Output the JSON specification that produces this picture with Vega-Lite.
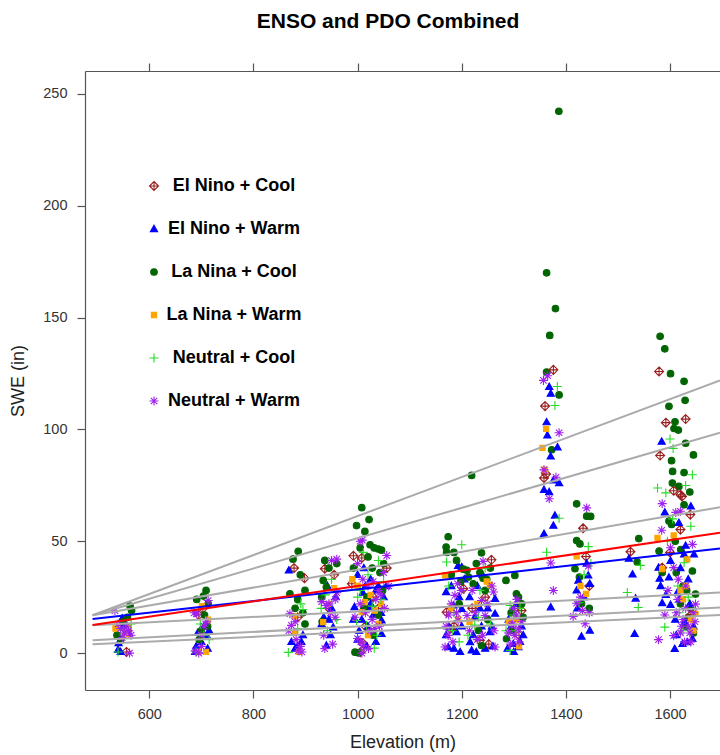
{
"$schema": "https://vega.github.io/schema/vega-lite/v6.json",
"width": 635, "height": 619,
"autosize": {"type": "none"},
"padding": {"left": 85, "top": 71, "right": 0, "bottom": 65},
"background": "white",
"config": {"view": {"stroke": null}, "font": "Liberation Sans",
  "axis": {"grid": false, "domainColor": "#555555", "tickColor": "#555555", "domainWidth": 1.2, "tickWidth": 1.2, "labelColor": "#333333", "titleColor": "#222222", "labelFont": "Liberation Sans", "titleFont": "Liberation Sans", "labelFontSize": 14.5, "titleFontSize": 18, "titleFontWeight": "normal", "tickSize": 8, "labelFlush": false}},
"title": {"text": "ENSO and PDO Combined", "font": "Liberation Sans", "fontSize": 21, "fontWeight": "bold", "color": "#000000", "dx": -14.5, "offset": 13, "baseline": "alphabetic"},
"datasets": {
"lines": [
{"id":"a1","e":491,"s":16.9},{"id":"a1","e":1696,"s":121.9},
{"id":"a2","e":491,"s":16.9},{"id":"a2","e":1696,"s":98.5},
{"id":"a3","e":491,"s":16.9},{"id":"a3","e":1696,"s":65.2},
{"id":"a4","e":491,"s":12.4},{"id":"a4","e":1696,"s":27.1},
{"id":"a5","e":491,"s":5.7},{"id":"a5","e":1696,"s":20.4},
{"id":"a6","e":491,"s":3.9},{"id":"a6","e":1696,"s":17.0},
{"id":"b","e":491,"s":15.2},{"id":"b","e":1696,"s":46.7},
{"id":"c","e":491,"s":12.6},{"id":"c","e":1696,"s":53.8}
],
"pts": [
{"e":552,"s":13,"g":"EC"},{"e":558,"s":10,"g":"EC"},{"e":556,"s":0.5,"g":"EC"},
{"e":548,"s":15.5,"g":"EW"},{"e":541,"s":4.5,"g":"EW"},{"e":540,"s":1.5,"g":"EW"},{"e":545,"s":0.5,"g":"EW"},{"e":560,"s":9,"g":"EW"},{"e":550,"s":12,"g":"EW"},
{"e":563,"s":21,"g":"LC"},{"e":566,"s":19,"g":"LC"},{"e":538,"s":8,"g":"LC"},{"e":550,"s":14,"g":"LC"},{"e":545,"s":6,"g":"LC"},{"e":558,"s":16,"g":"LC"},
{"e":535,"s":11,"g":"LW"},{"e":560,"s":12,"g":"LW"},{"e":555,"s":8.5,"g":"LW"},
{"e":540,"s":0.5,"g":"NC"},{"e":565,"s":13,"g":"NC"},{"e":550,"s":10,"g":"NC"},
{"e":534,"s":19,"g":"NW"},{"e":545,"s":11,"g":"NW"},{"e":552,"s":9,"g":"NW"},{"e":560,"s":10,"g":"NW"},{"e":565,"s":8,"g":"NW"},{"e":548,"s":7,"g":"NW"},{"e":562,"s":0,"g":"NW"},{"e":556,"s":12,"g":"NW"},{"e":540,"s":13,"g":"NW"},

{"e":703,"s":20,"g":"EC"},{"e":695,"s":17,"g":"EC"},
{"e":690,"s":3,"g":"EW"},{"e":695,"s":1,"g":"EW"},{"e":700,"s":5,"g":"EW"},{"e":710,"s":8,"g":"EW"},{"e":715,"s":10,"g":"EW"},{"e":705,"s":12,"g":"EW"},{"e":688,"s":0.5,"g":"EW"},{"e":712,"s":2,"g":"EW"},{"e":693,"s":9,"g":"EW"},
{"e":709,"s":28,"g":"LC"},{"e":704,"s":25.5,"g":"LC"},{"e":691,"s":24,"g":"LC"},{"e":713,"s":22,"g":"LC"},{"e":706,"s":17,"g":"LC"},{"e":700,"s":10,"g":"LC"},{"e":696,"s":6,"g":"LC"},{"e":712,"s":12,"g":"LC"},
{"e":701,"s":21,"g":"LW"},{"e":713,"s":15,"g":"LW"},{"e":709,"s":0.5,"g":"LW"},{"e":695,"s":0.5,"g":"LW"},
{"e":705,"s":8,"g":"NC"},{"e":698,"s":13,"g":"NC"},{"e":690,"s":0.5,"g":"NC"},{"e":715,"s":6,"g":"NC"},
{"e":713,"s":23.5,"g":"NW"},{"e":691,"s":17.5,"g":"NW"},{"e":705,"s":12,"g":"NW"},{"e":688,"s":1,"g":"NW"},{"e":695,"s":0,"g":"NW"},{"e":700,"s":3,"g":"NW"},{"e":710,"s":14,"g":"NW"},{"e":686,"s":18,"g":"NW"},{"e":700,"s":8,"g":"NW"},

{"e":878,"s":38,"g":"EC"},{"e":898,"s":33.5,"g":"EC"},{"e":885,"s":16,"g":"EC"},
{"e":868,"s":37,"g":"EW"},{"e":873,"s":5,"g":"EW"},{"e":892,"s":5,"g":"EW"},{"e":880,"s":2,"g":"EW"},{"e":895,"s":8,"g":"EW"},{"e":885,"s":3,"g":"EW"},
{"e":886,"s":45.5,"g":"LC"},{"e":876,"s":42,"g":"LC"},{"e":890,"s":35,"g":"LC"},{"e":870,"s":26.5,"g":"LC"},{"e":899,"s":28,"g":"LC"},{"e":899,"s":13,"g":"LC"},{"e":885,"s":24,"g":"LC"},{"e":880,"s":20,"g":"LC"},{"e":895,"s":18,"g":"LC"},
{"e":878,"s":16.5,"g":"LW"},{"e":880,"s":9,"g":"LW"},{"e":888,"s":0.5,"g":"LW"},
{"e":891,"s":22,"g":"NC"},{"e":895,"s":19.5,"g":"NC"},{"e":867,"s":0.3,"g":"NC"},{"e":885,"s":11,"g":"NC"},
{"e":870,"s":17.6,"g":"NW"},{"e":873,"s":12.4,"g":"NW"},{"e":868,"s":10,"g":"NW"},{"e":886,"s":1,"g":"NW"},{"e":893,"s":0.5,"g":"NW"},{"e":880,"s":14,"g":"NW"},{"e":890,"s":3,"g":"NW"},{"e":882,"s":6,"g":"NW"},

{"e":937,"s":37.7,"g":"EC"},{"e":955,"s":35,"g":"EC"},{"e":945,"s":20,"g":"EC"},
{"e":942,"s":30,"g":"EW"},{"e":950,"s":20,"g":"EW"},{"e":931,"s":13,"g":"EW"},{"e":953,"s":11.5,"g":"EW"},{"e":940,"s":3.4,"g":"EW"},{"e":958,"s":25,"g":"EW"},{"e":935,"s":16,"g":"EW"},{"e":948,"s":8,"g":"EW"},{"e":945,"s":15,"g":"EW"},
{"e":937,"s":41.4,"g":"LC"},{"e":960,"s":40,"g":"LC"},{"e":934,"s":32.5,"g":"LC"},{"e":940,"s":29.5,"g":"LC"},{"e":931,"s":25,"g":"LC"},{"e":945,"s":38,"g":"LC"},{"e":932,"s":14,"g":"LC"},
{"e":955,"s":29,"g":"LW"},{"e":934,"s":13.8,"g":"LW"},{"e":945,"s":22,"g":"LW"},
{"e":938,"s":26,"g":"NC"},{"e":950,"s":33,"g":"NC"},{"e":930,"s":20,"g":"NC"},{"e":960,"s":15,"g":"NC"},{"e":942,"s":10,"g":"NC"},
{"e":950,"s":41.4,"g":"NW"},{"e":960,"s":42,"g":"NW"},{"e":931,"s":23,"g":"NW"},{"e":945,"s":22,"g":"NW"},{"e":957,"s":24,"g":"NW"},{"e":940,"s":21.3,"g":"NW"},{"e":957,"s":16,"g":"NW"},{"e":937,"s":2,"g":"NW"},{"e":948,"s":18,"g":"NW"},{"e":960,"s":27,"g":"NW"},{"e":935,"s":8,"g":"NW"},{"e":952,"s":4,"g":"NW"},

{"e":992,"s":43.5,"g":"EC"},{"e":1008,"s":42.5,"g":"EC"},{"e":1056,"s":38,"g":"EC"},{"e":989,"s":31,"g":"EC"},{"e":1010,"s":4.5,"g":"EC"},{"e":1005,"s":0.4,"g":"EC"},{"e":1030,"s":25,"g":"EC"},{"e":1040,"s":20,"g":"EC"},{"e":1015,"s":12,"g":"EC"},
{"e":1000,"s":35,"g":"EW"},{"e":1015,"s":30,"g":"EW"},{"e":1025,"s":33,"g":"EW"},{"e":994,"s":20.6,"g":"EW"},{"e":1021,"s":20.6,"g":"EW"},{"e":1046,"s":14.6,"g":"EW"},{"e":1046,"s":8.6,"g":"EW"},{"e":992,"s":15,"g":"EW"},{"e":1003,"s":10,"g":"EW"},{"e":1010,"s":27,"g":"EW"},{"e":1035,"s":28,"g":"EW"},{"e":1050,"s":25,"g":"EW"},{"e":1040,"s":30,"g":"EW"},{"e":1012,"s":38,"g":"EW"},{"e":1000,"s":6,"g":"EW"},{"e":1020,"s":12,"g":"EW"},{"e":1055,"s":30,"g":"EW"},{"e":1030,"s":17,"g":"EW"},{"e":1018,"s":3,"g":"EW"},{"e":1008,"s":15,"g":"EW"},{"e":1035,"s":5,"g":"EW"},{"e":1025,"s":22,"g":"EW"},{"e":1045,"s":18,"g":"EW"},
{"e":1008,"s":65,"g":"LC"},{"e":998,"s":57,"g":"LC"},{"e":1022,"s":59.7,"g":"LC"},{"e":1014,"s":54.4,"g":"LC"},{"e":1024,"s":48.4,"g":"LC"},{"e":1032,"s":47,"g":"LC"},{"e":1040,"s":46.5,"g":"LC"},{"e":1046,"s":46,"g":"LC"},{"e":992,"s":38,"g":"LC"},{"e":1020,"s":43,"g":"LC"},{"e":1050,"s":40,"g":"LC"},{"e":1043,"s":36,"g":"LC"},{"e":1040,"s":17,"g":"LC"},{"e":995,"s":0.4,"g":"LC"},{"e":1001,"s":0.1,"g":"LC"},{"e":1028,"s":38,"g":"LC"},{"e":1018,"s":25,"g":"LC"},{"e":1048,"s":28,"g":"LC"},{"e":1005,"s":47,"g":"LC"},{"e":1030,"s":8,"g":"LC"},{"e":1012,"s":20,"g":"LC"},
{"e":1014,"s":22.8,"g":"LW"},{"e":1033,"s":19,"g":"LW"},{"e":1008,"s":18.3,"g":"LW"},{"e":1000,"s":30,"g":"LW"},{"e":1025,"s":26,"g":"LW"},{"e":1045,"s":22,"g":"LW"},{"e":990,"s":33,"g":"LW"},{"e":1020,"s":8,"g":"LW"},{"e":1040,"s":13,"g":"LW"},
{"e":1011,"s":45,"g":"NC"},{"e":1040,"s":41.4,"g":"NC"},{"e":998,"s":14.6,"g":"NC"},{"e":1017,"s":12.4,"g":"NC"},{"e":1037,"s":8,"g":"NC"},{"e":1032,"s":2.2,"g":"NC"},{"e":1020,"s":35,"g":"NC"},{"e":1005,"s":28,"g":"NC"},{"e":1050,"s":32,"g":"NC"},{"e":1028,"s":21,"g":"NC"},{"e":1045,"s":24,"g":"NC"},{"e":1000,"s":25,"g":"NC"},
{"e":1009,"s":50.5,"g":"NW"},{"e":1005,"s":50,"g":"NW"},{"e":1056,"s":43.6,"g":"NW"},{"e":1030,"s":32,"g":"NW"},{"e":1040,"s":28,"g":"NW"},{"e":1020,"s":30,"g":"NW"},{"e":1010,"s":33,"g":"NW"},{"e":1045,"s":26,"g":"NW"},{"e":995,"s":16,"g":"NW"},{"e":1033,"s":11,"g":"NW"},{"e":1000,"s":6.5,"g":"NW"},{"e":1006,"s":5,"g":"NW"},{"e":1011,"s":3.4,"g":"NW"},{"e":1021,"s":2,"g":"NW"},{"e":1008,"s":0,"g":"NW"},{"e":1050,"s":36,"g":"NW"},{"e":1060,"s":30,"g":"NW"},{"e":1025,"s":10,"g":"NW"},{"e":1000,"s":40,"g":"NW"},{"e":1035,"s":24,"g":"NW"},{"e":1015,"s":18,"g":"NW"},{"e":1028,"s":15,"g":"NW"},{"e":1042,"s":12,"g":"NW"},{"e":1005,"s":22,"g":"NW"},{"e":1052,"s":20,"g":"NW"},

{"e":1171,"s":18.3,"g":"EC"},{"e":1178,"s":10.9,"g":"EC"},{"e":1203,"s":28.8,"g":"EC"},{"e":1185,"s":12,"g":"EC"},
{"e":1193,"s":39,"g":"EW"},{"e":1200,"s":38.4,"g":"EW"},{"e":1170,"s":27.3,"g":"EW"},{"e":1184,"s":21.3,"g":"EW"},{"e":1200,"s":19.8,"g":"EW"},{"e":1190,"s":9.4,"g":"EW"},{"e":1174,"s":2.7,"g":"EW"},{"e":1197,"s":0.5,"g":"EW"},{"e":1180,"s":30,"g":"EW"},{"e":1195,"s":25,"g":"EW"},{"e":1175,"s":12,"g":"EW"},{"e":1205,"s":33,"g":"EW"},{"e":1170,"s":8,"g":"EW"},{"e":1185,"s":2,"g":"EW"},{"e":1200,"s":12,"g":"EW"},
{"e":1174,"s":52,"g":"LC"},{"e":1170,"s":47.4,"g":"LC"},{"e":1171,"s":45,"g":"LC"},{"e":1190,"s":41.4,"g":"LC"},{"e":1203,"s":37.5,"g":"LC"},{"e":1180,"s":35,"g":"LC"},{"e":1198,"s":32,"g":"LC"},{"e":1185,"s":45,"g":"LC"},{"e":1195,"s":22,"g":"LC"},
{"e":1168,"s":34.7,"g":"LW"},{"e":1193,"s":15.3,"g":"LW"},{"e":1180,"s":20,"g":"LW"},
{"e":1200,"s":48.4,"g":"NC"},{"e":1171,"s":40.7,"g":"NC"},{"e":1185,"s":18,"g":"NC"},{"e":1195,"s":5,"g":"NC"},{"e":1175,"s":30,"g":"NC"},{"e":1182,"s":10,"g":"NC"},
{"e":1187,"s":25.8,"g":"NW"},{"e":1193,"s":14.6,"g":"NW"},{"e":1174,"s":7.9,"g":"NW"},{"e":1168,"s":2.7,"g":"NW"},{"e":1180,"s":22,"g":"NW"},{"e":1199,"s":28,"g":"NW"},{"e":1183,"s":5,"g":"NW"},{"e":1175,"s":17,"g":"NW"},{"e":1192,"s":31,"g":"NW"},{"e":1190,"s":18,"g":"NW"},{"e":1170,"s":12,"g":"NW"},

{"e":1257,"s":41.7,"g":"EC"},{"e":1235,"s":5.7,"g":"EC"},{"e":1245,"s":25,"g":"EC"},{"e":1220,"s":20,"g":"EC"},{"e":1252,"s":4,"g":"EC"},
{"e":1225,"s":16.1,"g":"EW"},{"e":1264,"s":24.3,"g":"EW"},{"e":1264,"s":17.6,"g":"EW"},{"e":1254,"s":9.4,"g":"EW"},{"e":1216,"s":4.9,"g":"EW"},{"e":1219,"s":1.2,"g":"EW"},{"e":1230,"s":30,"g":"EW"},{"e":1240,"s":35,"g":"EW"},{"e":1215,"s":25,"g":"EW"},{"e":1250,"s":20,"g":"EW"},{"e":1238,"s":12,"g":"EW"},{"e":1260,"s":3,"g":"EW"},{"e":1228,"s":0.5,"g":"EW"},{"e":1245,"s":2,"g":"EW"},{"e":1235,"s":20,"g":"EW"},{"e":1258,"s":12,"g":"EW"},{"e":1222,"s":8,"g":"EW"},
{"e":1219,"s":79.4,"g":"LC"},{"e":1238,"s":44.8,"g":"LC"},{"e":1213,"s":34,"g":"LC"},{"e":1210,"s":37,"g":"LC"},{"e":1235,"s":36,"g":"LC"},{"e":1241,"s":33.5,"g":"LC"},{"e":1248,"s":33,"g":"LC"},{"e":1222,"s":31,"g":"LC"},{"e":1232,"s":10.1,"g":"LC"},{"e":1238,"s":3.4,"g":"LC"},{"e":1255,"s":38,"g":"LC"},{"e":1228,"s":40,"g":"LC"},{"e":1250,"s":15,"g":"LC"},{"e":1245,"s":28,"g":"LC"},
{"e":1254,"s":30.5,"g":"LW"},{"e":1248,"s":32,"g":"LW"},{"e":1230,"s":22,"g":"LW"},{"e":1215,"s":14,"g":"LW"},
{"e":1245,"s":38,"g":"NC"},{"e":1225,"s":12.5,"g":"NC"},{"e":1255,"s":13,"g":"NC"},{"e":1235,"s":28,"g":"NC"},{"e":1212,"s":8,"g":"NC"},{"e":1232,"s":16,"g":"NC"},
{"e":1241,"s":41,"g":"NW"},{"e":1261,"s":27.3,"g":"NW"},{"e":1238,"s":23.5,"g":"NW"},{"e":1210,"s":16.8,"g":"NW"},{"e":1245,"s":16.8,"g":"NW"},{"e":1264,"s":2.7,"g":"NW"},{"e":1220,"s":28,"g":"NW"},{"e":1230,"s":6,"g":"NW"},{"e":1250,"s":22,"g":"NW"},{"e":1215,"s":10,"g":"NW"},{"e":1258,"s":30,"g":"NW"},{"e":1240,"s":8,"g":"NW"},{"e":1226,"s":18,"g":"NW"},{"e":1262,"s":10,"g":"NW"},

{"e":1302,"s":19.8,"g":"EC"},{"e":1315,"s":19,"g":"EC"},{"e":1310,"s":8,"g":"EC"},
{"e":1299,"s":4.1,"g":"EW"},{"e":1309,"s":2.7,"g":"EW"},{"e":1312,"s":5,"g":"EW"},{"e":1295,"s":12,"g":"EW"},{"e":1290,"s":15,"g":"EW"},{"e":1315,"s":12,"g":"EW"},{"e":1305,"s":22,"g":"EW"},{"e":1300,"s":0.5,"g":"EW"},{"e":1288,"s":2,"g":"EW"},{"e":1318,"s":8,"g":"EW"},
{"e":1285,"s":32.5,"g":"LC"},{"e":1302,"s":34.7,"g":"LC"},{"e":1305,"s":26.5,"g":"LC"},{"e":1309,"s":25,"g":"LC"},{"e":1286,"s":6.4,"g":"LC"},{"e":1295,"s":18,"g":"LC"},{"e":1315,"s":22,"g":"LC"},{"e":1298,"s":10,"g":"LC"},{"e":1318,"s":16,"g":"LC"},
{"e":1290,"s":14,"g":"LW"},{"e":1305,"s":15,"g":"LW"},{"e":1310,"s":3,"g":"LW"},
{"e":1293,"s":21.3,"g":"NC"},{"e":1293,"s":1.2,"g":"NC"},{"e":1300,"s":17,"g":"NC"},{"e":1285,"s":10,"g":"NC"},{"e":1312,"s":20,"g":"NC"},{"e":1303,"s":10,"g":"NC"},
{"e":1296,"s":12.4,"g":"NW"},{"e":1309,"s":10.9,"g":"NW"},{"e":1302,"s":7.9,"g":"NW"},{"e":1305,"s":17,"g":"NW"},{"e":1315,"s":14,"g":"NW"},{"e":1290,"s":9,"g":"NW"},{"e":1300,"s":20,"g":"NW"},{"e":1310,"s":5,"g":"NW"},{"e":1298,"s":13,"g":"NW"},{"e":1294,"s":4,"g":"NW"},{"e":1306,"s":24,"g":"NW"},

{"e":1386.5,"s":242.2,"g":"LC"},{"e":1363,"s":170,"g":"LC"},{"e":1380,"s":154,"g":"LC"},{"e":1369,"s":142,"g":"LC"},{"e":1363,"s":125.6,"g":"LC"},{"e":1387,"s":115.4,"g":"LC"},{"e":1372.7,"s":90.9,"g":"LC"},
{"e":1376,"s":126.6,"g":"EC"},{"e":1360,"s":110.4,"g":"EC"},{"e":1358,"s":78.3,"g":"EC"},{"e":1362,"s":80,"g":"EC"},
{"e":1368,"s":119,"g":"EW"},{"e":1371,"s":116,"g":"EW"},{"e":1363,"s":103.2,"g":"EW"},{"e":1364.4,"s":97.3,"g":"EW"},{"e":1384,"s":92,"g":"EW"},{"e":1370.8,"s":87.9,"g":"EW"},{"e":1376,"s":77.2,"g":"EW"},{"e":1387,"s":76,"g":"EW"},{"e":1358,"s":73,"g":"EW"},{"e":1368,"s":72,"g":"EW"},{"e":1379,"s":61.5,"g":"EW"},{"e":1376,"s":57,"g":"EW"},{"e":1358,"s":53.3,"g":"EW"},{"e":1371,"s":20.5,"g":"EW"},
{"e":1362,"s":100.2,"g":"LW"},{"e":1355,"s":91.7,"g":"LW"},{"e":1360,"s":82,"g":"LW"},
{"e":1383.6,"s":119.2,"g":"NC"},{"e":1379,"s":110.7,"g":"NC"},{"e":1387,"s":60.3,"g":"NC"},{"e":1363,"s":45.1,"g":"NC"},
{"e":1357,"s":121.9,"g":"NW"},{"e":1387,"s":98.5,"g":"NW"},{"e":1358,"s":81.9,"g":"NW"},{"e":1381,"s":78.6,"g":"NW"},{"e":1368,"s":69,"g":"NW"},{"e":1371,"s":40.3,"g":"NW"},{"e":1376,"s":28,"g":"NW"},{"e":1365,"s":124,"g":"NW"},

{"e":1420.7,"s":66.7,"g":"LC"},{"e":1440,"s":61.2,"g":"LC"},{"e":1447.6,"s":61.1,"g":"LC"},{"e":1420.7,"s":50.3,"g":"LC"},{"e":1427,"s":48.8,"g":"LC"},{"e":1417.5,"s":37.7,"g":"LC"},{"e":1426,"s":34,"g":"LC"},{"e":1430,"s":22,"g":"LC"},{"e":1445,"s":20,"g":"LC"},
{"e":1433,"s":55.8,"g":"EC"},{"e":1438.6,"s":43.2,"g":"EC"},{"e":1445,"s":30,"g":"EC"},
{"e":1443,"s":34.7,"g":"EW"},{"e":1424,"s":32.4,"g":"EW"},{"e":1420.7,"s":28,"g":"EW"},{"e":1446,"s":31,"g":"EW"},{"e":1430,"s":7.4,"g":"EW"},{"e":1446,"s":10.1,"g":"EW"},{"e":1435,"s":25,"g":"EW"},{"e":1422,"s":20,"g":"EW"},{"e":1440,"s":40,"g":"EW"},
{"e":1420.7,"s":43.2,"g":"LW"},{"e":1438.6,"s":26.5,"g":"LW"},{"e":1428,"s":30,"g":"LW"},
{"e":1443,"s":47.6,"g":"NC"},{"e":1435,"s":35,"g":"NC"},{"e":1425,"s":22.5,"g":"NC"},{"e":1448,"s":40,"g":"NC"},
{"e":1440,"s":64.9,"g":"NW"},{"e":1443,"s":38.9,"g":"NW"},{"e":1420.7,"s":22.3,"g":"NW"},{"e":1432,"s":19,"g":"NW"},{"e":1414,"s":16.4,"g":"NW"},{"e":1437,"s":13.1,"g":"NW"},{"e":1428,"s":25,"g":"NW"},{"e":1445,"s":18,"g":"NW"},

{"e":1540,"s":51.2,"g":"LC"},{"e":1537,"s":40.7,"g":"LC"},
{"e":1524,"s":45.3,"g":"EC"},
{"e":1521,"s":42.2,"g":"EW"},{"e":1528,"s":35.2,"g":"EW"},{"e":1534,"s":24.4,"g":"EW"},{"e":1532,"s":8.6,"g":"EW"},
{"e":1518,"s":27.1,"g":"NC"},{"e":1539,"s":20.4,"g":"NC"},{"e":1543,"s":39.2,"g":"NC"},

{"e":1581,"s":141.6,"g":"LC"},{"e":1590,"s":136,"g":"LC"},{"e":1601,"s":124.9,"g":"LC"},{"e":1627,"s":121.5,"g":"LC"},{"e":1629,"s":113,"g":"LC"},{"e":1598,"s":110.3,"g":"LC"},{"e":1609.6,"s":103.4,"g":"LC"},{"e":1607.7,"s":100.4,"g":"LC"},{"e":1616,"s":99.7,"g":"LC"},{"e":1630,"s":93.8,"g":"LC"},{"e":1645,"s":88.6,"g":"LC"},{"e":1603,"s":86,"g":"LC"},{"e":1605,"s":81.2,"g":"LC"},{"e":1627,"s":80.7,"g":"LC"},{"e":1604.6,"s":76,"g":"LC"},{"e":1617,"s":74.5,"g":"LC"},{"e":1638,"s":72,"g":"LC"},{"e":1627,"s":66.3,"g":"LC"},{"e":1598,"s":59,"g":"LC"},{"e":1603,"s":57.5,"g":"LC"},{"e":1579,"s":45.6,"g":"LC"},{"e":1620.6,"s":46.3,"g":"LC"},{"e":1643,"s":36.7,"g":"LC"},{"e":1585,"s":36,"g":"LC"},{"e":1649,"s":26.4,"g":"LC"},{"e":1640,"s":20,"g":"LC"},{"e":1630,"s":12,"g":"LC"},{"e":1620,"s":22,"g":"LC"},{"e":1645,"s":9,"g":"LC"},{"e":1610,"s":50,"g":"LC"},{"e":1632,"s":28,"g":"LC"},{"e":1635,"s":16,"g":"LC"},{"e":1625,"s":30,"g":"LC"},{"e":1612,"s":36,"g":"LC"},
{"e":1579,"s":125.9,"g":"EC"},{"e":1592,"s":103,"g":"EC"},{"e":1630,"s":104.6,"g":"EC"},{"e":1581,"s":88.3,"g":"EC"},{"e":1607,"s":72.6,"g":"EC"},{"e":1620,"s":70.8,"g":"EC"},{"e":1623,"s":70,"g":"EC"},{"e":1639,"s":61.9,"g":"EC"},{"e":1620,"s":55.2,"g":"EC"},{"e":1585,"s":38.2,"g":"EC"},{"e":1600,"s":45,"g":"EC"},{"e":1640,"s":17,"g":"EC"},
{"e":1584,"s":94.5,"g":"EW"},{"e":1640,"s":65.6,"g":"EW"},{"e":1590,"s":62.9,"g":"EW"},{"e":1617,"s":58.2,"g":"EW"},{"e":1627,"s":44.1,"g":"EW"},{"e":1646,"s":44.1,"g":"EW"},{"e":1601,"s":41.2,"g":"EW"},{"e":1578,"s":38.2,"g":"EW"},{"e":1598,"s":33.8,"g":"EW"},{"e":1580,"s":33.3,"g":"EW"},{"e":1635,"s":33,"g":"EW"},{"e":1582,"s":30,"g":"EW"},{"e":1585,"s":22.4,"g":"EW"},{"e":1601,"s":21.6,"g":"EW"},{"e":1614,"s":27,"g":"EW"},{"e":1609,"s":1.9,"g":"EW"},{"e":1624,"s":4.1,"g":"EW"},{"e":1633,"s":4.9,"g":"EW"},{"e":1643,"s":6.4,"g":"EW"},{"e":1630,"s":48,"g":"EW"},{"e":1620,"s":38,"g":"EW"},{"e":1610,"s":15,"g":"EW"},{"e":1645,"s":12,"g":"EW"},{"e":1612,"s":8,"g":"EW"},{"e":1628,"s":14,"g":"EW"},{"e":1618,"s":24,"g":"EW"},{"e":1592,"s":26,"g":"EW"},{"e":1638,"s":22,"g":"EW"},
{"e":1576,"s":51.5,"g":"LW"},{"e":1607,"s":52.6,"g":"LW"},{"e":1585,"s":37.5,"g":"LW"},{"e":1630,"s":30,"g":"LW"},{"e":1649,"s":17.5,"g":"LW"},{"e":1633,"s":41.9,"g":"LW"},{"e":1625,"s":24,"g":"LW"},{"e":1640,"s":15,"g":"LW"},{"e":1620,"s":28,"g":"LW"},{"e":1645,"s":10,"g":"LW"},
{"e":1600,"s":95.7,"g":"NC"},{"e":1606,"s":91.5,"g":"NC"},{"e":1643,"s":79.7,"g":"NC"},{"e":1576,"s":73.8,"g":"NC"},{"e":1592,"s":71.6,"g":"NC"},{"e":1630,"s":74.9,"g":"NC"},{"e":1640,"s":56.7,"g":"NC"},{"e":1590,"s":11.6,"g":"NC"},{"e":1627,"s":40.4,"g":"NC"},{"e":1595,"s":50,"g":"NC"},{"e":1615,"s":30,"g":"NC"},{"e":1635,"s":25,"g":"NC"},{"e":1625,"s":10,"g":"NC"},{"e":1618,"s":18,"g":"NC"},{"e":1605,"s":60,"g":"NC"},
{"e":1585,"s":66.8,"g":"NW"},{"e":1611,"s":62.9,"g":"NW"},{"e":1620,"s":63.4,"g":"NW"},{"e":1584,"s":54.9,"g":"NW"},{"e":1643,"s":48.6,"g":"NW"},{"e":1601,"s":47.1,"g":"NW"},{"e":1607,"s":38.2,"g":"NW"},{"e":1616,"s":33,"g":"NW"},{"e":1590,"s":17,"g":"NW"},{"e":1649,"s":21.9,"g":"NW"},{"e":1578,"s":6,"g":"NW"},{"e":1607,"s":7.8,"g":"NW"},{"e":1625,"s":15,"g":"NW"},{"e":1635,"s":12,"g":"NW"},{"e":1645,"s":18,"g":"NW"},{"e":1630,"s":20,"g":"NW"},{"e":1620,"s":9,"g":"NW"},{"e":1640,"s":5,"g":"NW"},{"e":1615,"s":24,"g":"NW"},{"e":1630,"s":30,"g":"NW"},{"e":1648,"s":14,"g":"NW"},{"e":1622,"s":12,"g":"NW"},{"e":1638,"s":9,"g":"NW"},{"e":1612,"s":18,"g":"NW"},{"e":1628,"s":5,"g":"NW"},{"e":1596,"s":28,"g":"NW"}
]
},
"resolve": {"axis": {"x": "independent"}},
"layer": [
{
"data": {"name": "pts"},
"mark": {"type": "point", "size": 100, "strokeWidth": 1.1, "opacity": 1, "clip": true},
"encoding": {
"x": {"field": "e", "type": "quantitative", "scale": {"domain": [476.5, 1696], "nice": false, "zero": false},
  "axis": {"orient": "bottom", "values": [600, 800, 1000, 1200, 1400, 1600], "format": "d", "title": "Elevation (m)", "labelPadding": 9, "titlePadding": 13}},
"y": {"field": "s", "type": "quantitative", "scale": {"domain": [-16.5, 260.2], "nice": false, "zero": false},
  "axis": {"values": [0, 50, 100, 150, 200, 250], "title": "SWE (in)", "labelPadding": 10, "titlePadding": 15}},
"shape": {"field": "g", "type": "nominal",
  "scale": {"domain": ["EC", "EW", "LC", "LW", "NC", "NW"],
    "range": ["M0,-0.9L0.9,0L0,0.9L-0.9,0Z M0,-0.9L0,0.9 M-0.9,0L0.9,0", "M0,-0.76L0.72,0.52L-0.72,0.52Z", "M0.66,0A0.66,0.66,0,1,1,-0.66,0A0.66,0.66,0,1,1,0.66,0Z", "M-0.52,-0.52H0.52V0.52H-0.52Z", "M0,-0.9V0.9M-0.9,0H0.9", "M0,-0.9V0.9M-0.9,0H0.9M-0.64,-0.64L0.64,0.64M-0.64,0.64L0.64,-0.64"]},
  "legend": {"orient": "none", "legendX": 60, "legendY": 106, "title": null, "padding": 0, "labelFont": "Liberation Sans", "labelFontSize": 18, "labelFontWeight": "bold", "labelAlign": "center", "labelBaseline": "middle", "labelOffset": 71, "rowPadding": 25, "symbolSize": 100, "symbolStrokeWidth": 1.1, "labelLimit": 300,
    "labelExpr": "datum.label=='EC'?'El Nino + Cool':datum.label=='EW'?'El Nino + Warm':datum.label=='LC'?'La Nina + Cool':datum.label=='LW'?'La Nina + Warm':datum.label=='NC'?'Neutral + Cool':'Neutral + Warm'",
    "encode": {"labels": {"update": {"fill": {"scale": "stroke", "field": "value"}}}}}},
"stroke": {"field": "g", "type": "nominal",
  "scale": {"domain": ["EC", "EW", "LC", "LW", "NC", "NW"], "range": ["#9A2020", "#0000FF", "#006400", "#FFA500", "#22DD22", "#A020F0"]},
  "legend": {"orient": "none", "legendX": 60, "legendY": 106, "title": null, "padding": 0, "labelFont": "Liberation Sans", "labelFontSize": 18, "labelFontWeight": "bold", "labelAlign": "center", "labelBaseline": "middle", "labelOffset": 71, "rowPadding": 25, "symbolSize": 100, "symbolStrokeWidth": 1.1, "labelLimit": 300,
    "labelExpr": "datum.label=='EC'?'El Nino + Cool':datum.label=='EW'?'El Nino + Warm':datum.label=='LC'?'La Nina + Cool':datum.label=='LW'?'La Nina + Warm':datum.label=='NC'?'Neutral + Cool':'Neutral + Warm'",
    "encode": {"labels": {"update": {"fill": {"scale": "stroke", "field": "value"}}}}}},
"fill": {"field": "g", "type": "nominal",
  "scale": {"domain": ["EC", "EW", "LC", "LW", "NC", "NW"], "range": ["transparent", "#0000FF", "#006400", "#FFA500", "transparent", "transparent"]},
  "legend": {"orient": "none", "legendX": 60, "legendY": 106, "title": null, "padding": 0, "labelFont": "Liberation Sans", "labelFontSize": 18, "labelFontWeight": "bold", "labelAlign": "center", "labelBaseline": "middle", "labelOffset": 71, "rowPadding": 25, "symbolSize": 100, "symbolStrokeWidth": 1.1, "labelLimit": 300,
    "labelExpr": "datum.label=='EC'?'El Nino + Cool':datum.label=='EW'?'El Nino + Warm':datum.label=='LC'?'La Nina + Cool':datum.label=='LW'?'La Nina + Warm':datum.label=='NC'?'Neutral + Cool':'Neutral + Warm'",
    "encode": {"labels": {"update": {"fill": {"scale": "stroke", "field": "value"}}}}}}
}
},
{
"data": {"name": "lines"},
"mark": {"type": "line", "strokeWidth": 2, "clip": true},
"encoding": {
"x": {"field": "e", "type": "quantitative", "scale": {"domain": [476.5, 1696], "nice": false, "zero": false},
  "axis": {"orient": "top", "values": [600, 800, 1000, 1200, 1400, 1600], "labels": false, "title": null}},
"y": {"field": "s", "type": "quantitative", "scale": {"domain": [-16.5, 260.2], "nice": false, "zero": false},
  "axis": {"values": [0, 50, 100, 150, 200, 250], "title": "SWE (in)", "labelPadding": 10, "titlePadding": 15}},
"color": {"field": "id", "type": "nominal",
  "scale": {"domain": ["a1", "a2", "a3", "a4", "a5", "a6", "b", "c"], "range": ["#ABABAB", "#ABABAB", "#ABABAB", "#ABABAB", "#ABABAB", "#ABABAB", "#0000FF", "#FF0000"]},
  "legend": null}
}
}
]
}
